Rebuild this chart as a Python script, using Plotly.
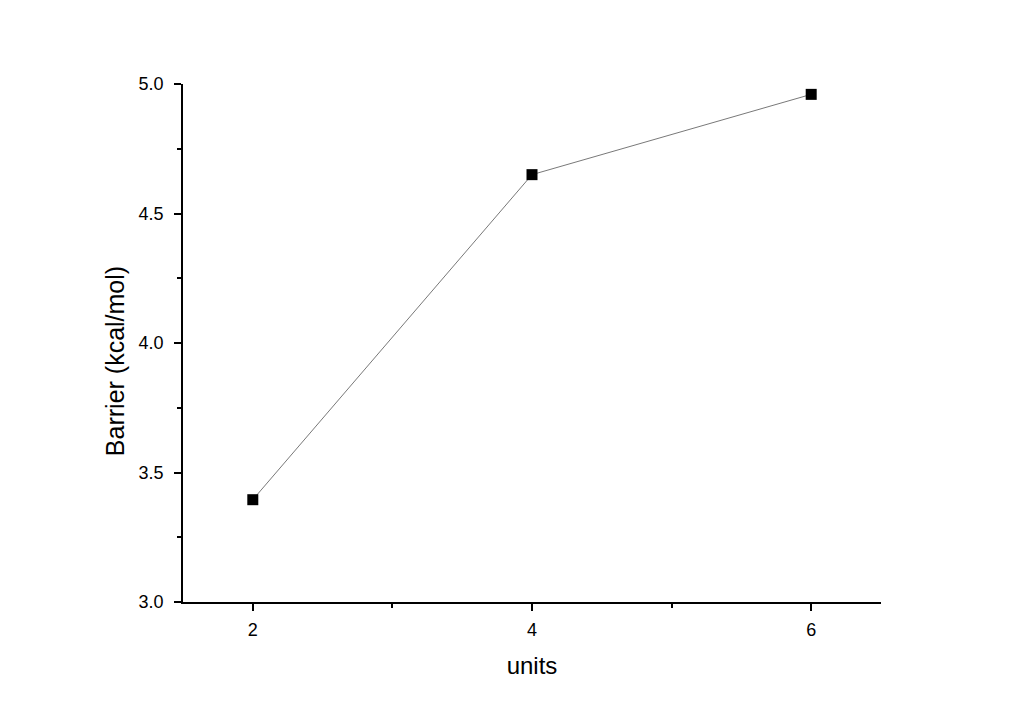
import plotly.graph_objects as go

# Data
units = [2, 4, 6]
barrier = [3.395, 4.65, 4.96]

x_ticks = [2, 4, 6]
y_ticks = [3.0, 3.5, 4.0, 4.5, 5.0]

FONT = "Liberation Sans, Arial, sans-serif"

fig = go.Figure()

fig.add_trace(go.Scatter(
    x=units,
    y=barrier,
    mode="lines+markers",
    line=dict(color="#555555", width=0.8),
    marker=dict(symbol="square", size=11, color="black"),
    showlegend=False,
))

axis_common = dict(
    showline=True,
    linecolor="black",
    linewidth=1.5,
    showgrid=False,
    zeroline=False,
    ticks="outside",
    ticklen=7,
    tickwidth=1.5,
    tickcolor="black",
    tickfont=dict(family=FONT, size=18, color="black"),
    title_font=dict(family=FONT, size=24, color="black"),
)

fig.update_xaxes(
    **axis_common,
    range=[1.5, 6.5],
    tickvals=x_ticks,
    ticktext=[str(v) for v in x_ticks],
    minor=dict(tickvals=[3, 5], ticks="outside", ticklen=4, tickwidth=1.5, tickcolor="black"),
    ticklabelstandoff=4,
    title_text="units",
    title_standoff=18,
)

fig.update_yaxes(
    **axis_common,
    range=[3.0, 5.0],
    tickvals=y_ticks,
    ticktext=[f"{v:.1f}" for v in y_ticks],
    minor=dict(tickvals=[3.25, 3.75, 4.25, 4.75], ticks="outside", ticklen=4, tickwidth=1.5, tickcolor="black"),
    ticklabelstandoff=7,
)

# y title sits a bit below the axis centre in the original, so place it by hand
fig.add_annotation(
    text="Barrier (kcal/mol)",
    xref="paper", yref="paper",
    x=-0.0974, y=0.465,
    xanchor="center", yanchor="middle",
    textangle=-90,
    showarrow=False,
    font=dict(family=FONT, size=25, color="black"),
)

# page has an 8px body margin, so the figure is shrunk by that much
fig.update_layout(
    width=1016,
    height=715,
    margin=dict(l=175, r=143, t=76, b=121),
    plot_bgcolor="white",
    paper_bgcolor="white",
)

fig.write_html("out.html")
